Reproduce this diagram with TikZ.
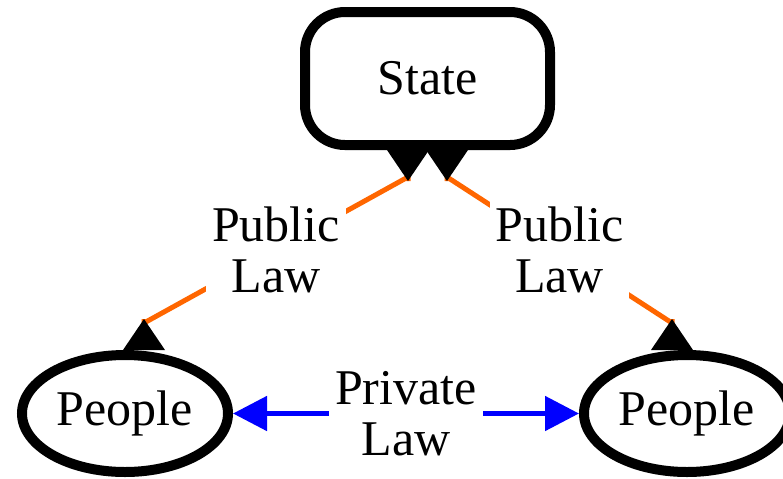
\documentclass[tikz,border=0pt]{standalone}
\usepackage{fontspec}
\setmainfont{Liberation Serif}
\usepackage{tikz}
\usetikzlibrary{arrows.meta,
calc,
shapes.geometric
}
\definecolor{LawOrange}{RGB}{255,102,0}
\tikzset{>={Triangle[length=17pt, width=17pt]}}

\begin{document}
\begin{tikzpicture}[x=0.5pt, y=-0.5pt, font=\fontsize{25}{25.5}\selectfont,
    party/.style={draw, line width=5pt, inner sep=0pt},
    publaw/.style={draw=LawOrange, line width=2.5pt, line join=round,
        {Triangle[reversed, length=15.5pt, width=21pt, line width=0pt, color=black]}-{Triangle[reversed, length=15.5pt, width=21pt, line width=0pt, color=black]}},
    privlaw/.style={draw=blue, line width=2.5pt, <->},
    lawlabel/.style={fill=white, align=center, inner sep=3pt}]
    \useasboundingbox (0,0) rectangle (783,478);

    \node[party, rectangle, rounded corners=20pt, minimum width=122.5pt, minimum height=66.5pt] (state) at (427.5,78.5) {State};
    \node[party, ellipse, minimum width=103pt, minimum height=58.5pt] (peopleL) at (125,413.5) {People};
    \node[party, ellipse, minimum width=103pt, minimum height=58.5pt] (peopleR) at (687,413.5) {People};

    \draw[publaw] ($(state.south)+(-19.5,0)$) -- ++(0,27)
        -- node[lawlabel] (publicL) {Public\\Law} ($(peopleL.north)+(19,-27)$)
        -- ($(peopleL.north)+(19,0)$);
    \draw[publaw] ($(state.south)+(19.5,0)$) -- ++(0,27)
        -- node[lawlabel] (publicR) {Public\\Law} ($(peopleR.north)+(-15,-27)$)
        -- ($(peopleR.north)+(-15,0)$);
    \draw[privlaw] (peopleL) -- node[lawlabel] (privateLaw) {Private\\Law} (peopleR);
\end{tikzpicture}
\end{document}
